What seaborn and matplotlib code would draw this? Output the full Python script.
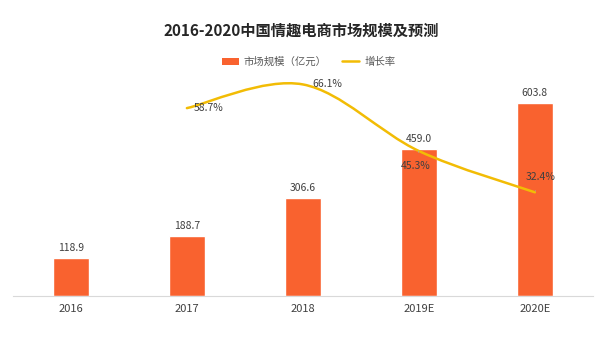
import matplotlib
matplotlib.use("Agg")
import matplotlib.pyplot as plt
import seaborn as sns
import pandas as pd
from matplotlib.path import Path
from matplotlib.patches import PathPatch, Patch
from matplotlib.lines import Line2D

years = ["2016", "2017", "2018", "2019E", "2020E"]
market_size = [118.9, 188.7, 306.6, 459.0, 603.8]
growth_years = ["2017", "2018", "2019E", "2020E"]
growth_rate = [58.7, 66.1, 45.3, 32.4]

title = "2016-2020中国情趣电商市场规模及预测"
bar_label = "市场规模（亿元）"
line_label = "增长率"

BAR_COLOR = "#F9622F"
LINE_COLOR = "#F2BC05"
TEXT_COLOR = "#404040"

sns.set_theme(style="white")
plt.rcParams["font.family"] = ["Noto Sans CJK SC", "DejaVu Sans"]

fig = plt.figure(figsize=(6.15, 3.4), dpi=100)
ax = fig.add_axes([0.021, 0.1294, 0.943, 0.659])

df = pd.DataFrame({"year": years, "size": market_size})
sns.barplot(data=df, x="year", y="size", color=BAR_COLOR, width=0.31,
            saturation=1, ax=ax, order=years)
ax.set_xlim(-0.5, len(years) - 0.5)
ax.set_ylim(0, 700)
ax.set_xlabel("")
ax.set_ylabel("")
ax.set_yticks([])
for s in ["left", "right", "top"]:
    ax.spines[s].set_visible(False)
ax.spines["bottom"].set_color("#D9D9D9")
ax.spines["bottom"].set_linewidth(0.8)
ax.tick_params(axis="x", which="major", length=0, pad=6, labelsize=8,
               labelcolor=TEXT_COLOR)
ax.set_xticks([i - 0.5 for i in range(len(years) + 1)], minor=True)
ax.tick_params(axis="x", which="minor", length=4, color="#D9D9D9", width=0.8,
               direction="out")

for i, v in enumerate(market_size):
    ax.annotate(f"{v:.1f}", (i, v), xytext=(0, 5), textcoords="offset pixels",
                ha="center", va="bottom", fontsize=7.5, color=TEXT_COLOR)

# growth rate line on secondary axis (smoothed like the source chart)
ax2 = ax.twinx()
ax2.set_ylim(0, 70)
ax2.set_yticks([])
for s in ["left", "right", "top", "bottom"]:
    ax2.spines[s].set_visible(False)

xs = [years.index(y) for y in growth_years]
pts = list(zip(xs, growth_rate))
verts = [pts[0]]
codes = [Path.MOVETO]
n = len(pts)
for i in range(n - 1):
    p0 = pts[i - 1] if i > 0 else pts[i]
    p1 = pts[i]
    p2 = pts[i + 1]
    p3 = pts[i + 2] if i + 2 < n else pts[i + 1]
    c1 = (p1[0] + (p2[0] - p0[0]) / 6, p1[1] + (p2[1] - p0[1]) / 6)
    c2 = (p2[0] - (p3[0] - p1[0]) / 6, p2[1] - (p3[1] - p1[1]) / 6)
    verts += [c1, c2, p2]
    codes += [Path.CURVE4] * 3
ax2.add_patch(PathPatch(Path(verts, codes), fill=False, edgecolor=LINE_COLOR,
                        linewidth=1.8, capstyle="round"))

offsets = [(22, 0), (24, 0), (-3, -15), (6, 15)]
leaders = [False, False, True, True]
for (x, v), off, lead in zip(pts, offsets, leaders):
    kw = {}
    if lead:
        kw["arrowprops"] = dict(arrowstyle="-", color="#A6A6A6", lw=0.7,
                                shrinkA=4, shrinkB=1)
    ax2.annotate(f"{v:.1f}%", (x, v), xytext=off, textcoords="offset pixels",
                 ha="center", va="center", fontsize=7.5, color=TEXT_COLOR, **kw)

fig.text(0.49, 0.91, title, ha="center", va="center", fontsize=11,
         fontweight="bold", color="#262626")

handles = [Patch(facecolor=BAR_COLOR, edgecolor="none"),
           Line2D([0], [0], color=LINE_COLOR, lw=1.8)]
fig.legend(handles, [bar_label, line_label], loc="center",
           bbox_to_anchor=(0.502, 0.818), ncol=2, frameon=False, fontsize=7.5,
           labelcolor="#595959", handlelength=1.6, handleheight=0.6,
           columnspacing=1.5, handletextpad=0.5)

fig.savefig("out.png", dpi=100)
